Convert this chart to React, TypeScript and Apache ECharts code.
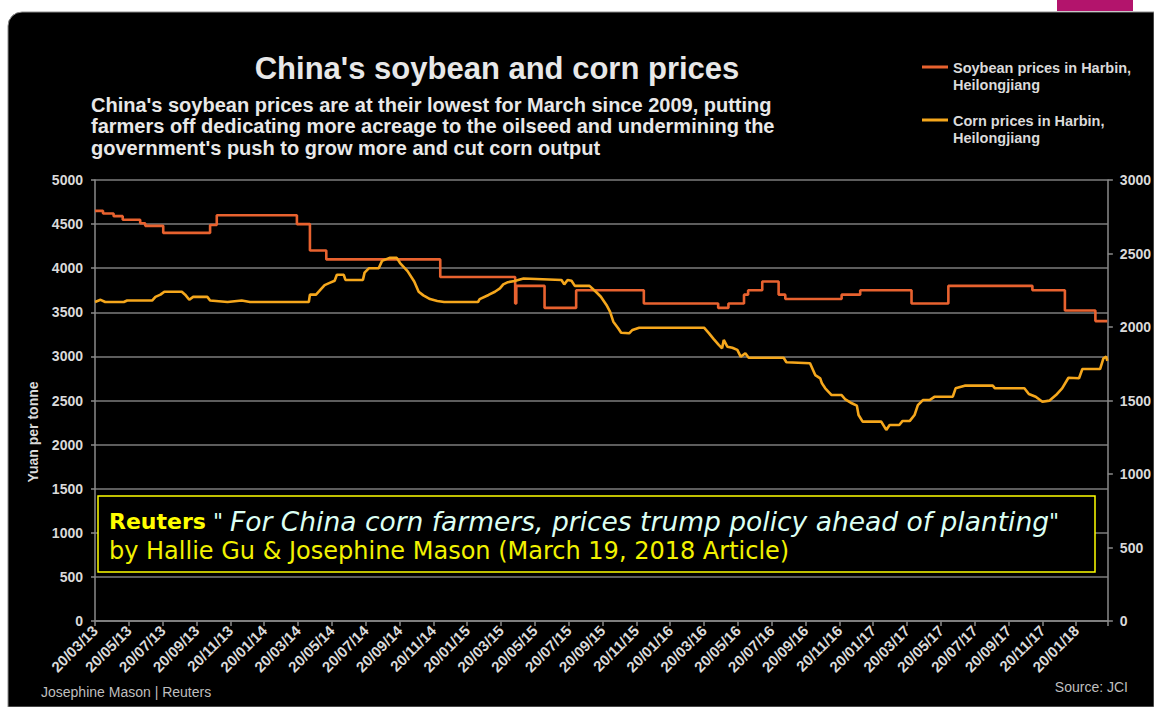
import React, { useEffect, useRef } from "react";
import * as echarts from "echarts";

// ---------- data ----------
const xTickLabels = [
  "20/03/13", "20/05/13", "20/07/13", "20/09/13", "20/11/13",
  "20/01/14", "20/03/14", "20/05/14", "20/07/14", "20/09/14", "20/11/14",
  "20/01/15", "20/03/15", "20/05/15", "20/07/15", "20/09/15", "20/11/15",
  "20/01/16", "20/03/16", "20/05/16", "20/07/16", "20/09/16", "20/11/16",
  "20/01/17", "20/03/17", "20/05/17", "20/07/17", "20/09/17", "20/11/17",
  "20/01/18",
];

const soyName = "Soybean prices in Harbin,\nHeilongjiang";
const cornName = "Corn prices in Harbin,\nHeilongjiang";

const soyDates = [
  "2013-03-20", "2013-04-04", "2013-04-23", "2013-05-09", "2013-06-10", "2013-06-19",
  "2013-07-21", "2013-10-14", "2013-10-26", "2014-03-18", "2014-04-11", "2014-05-10",
  "2014-12-02", "2015-04-15", "2015-04-17", "2015-06-07", "2015-08-03", "2015-12-03",
  "2016-04-15", "2016-05-03", "2016-05-31", "2016-06-08", "2016-07-03", "2016-08-02",
  "2016-08-14", "2016-11-24", "2016-12-27", "2017-03-28", "2017-06-03", "2017-11-02",
  "2017-12-30", "2018-02-24", "2018-03-15",
];
const soyValues = [
  4650, 4620, 4590, 4550, 4510, 4480,
  4400, 4490, 4600, 4500, 4200, 4100,
  3900, 3600, 3800, 3550, 3750, 3600,
  3550, 3600, 3700, 3750, 3850, 3700,
  3650, 3700, 3750, 3600, 3800, 3750,
  3520, 3400, 3400,
];

const cornDates = [
  "2013-03-20", "2013-03-30", "2013-04-08", "2013-05-11", "2013-05-17", "2013-07-01",
  "2013-07-07", "2013-07-16", "2013-07-23", "2013-08-24", "2013-08-30", "2013-09-07",
  "2013-09-14", "2013-10-09", "2013-10-14", "2013-11-15", "2013-12-10", "2013-12-25",
  "2014-04-09", "2014-04-11", "2014-04-22", "2014-04-28", "2014-05-07", "2014-05-16",
  "2014-05-25", "2014-05-29", "2014-06-11", "2014-06-14", "2014-07-15", "2014-07-18",
  "2014-07-26", "2014-08-13", "2014-08-19", "2014-09-02", "2014-09-15", "2014-09-21",
  "2014-10-04", "2014-10-16", "2014-10-24", "2014-11-02", "2014-11-14", "2014-11-27",
  "2014-12-09",
  "2015-02-09", "2015-02-12", "2015-02-28", "2015-03-09", "2015-03-18", "2015-03-24",
  "2015-04-02", "2015-04-14", "2015-04-30", "2015-07-07", "2015-07-12", "2015-07-18",
  "2015-07-25", "2015-07-31", "2015-08-27", "2015-09-08", "2015-09-17", "2015-09-27",
  "2015-10-03", "2015-10-09", "2015-10-18", "2015-10-23", "2015-11-07", "2015-11-13",
  "2015-11-25",
  "2016-03-20", "2016-03-29", "2016-04-07", "2016-04-16", "2016-04-22", "2016-04-25",
  "2016-05-01", "2016-05-10", "2016-05-19", "2016-05-25", "2016-06-03", "2016-06-09",
  "2016-08-11", "2016-08-16", "2016-09-28", "2016-10-07", "2016-10-16", "2016-10-19",
  "2016-10-25", "2016-11-06", "2016-11-24", "2016-11-30", "2016-12-12", "2016-12-21",
  "2016-12-24",
  "2017-01-01", "2017-02-04", "2017-02-13", "2017-02-19", "2017-03-06", "2017-03-12",
  "2017-03-25", "2017-04-03", "2017-04-09", "2017-04-18", "2017-04-30", "2017-05-09",
  "2017-06-11", "2017-06-16", "2017-07-02", "2017-08-22", "2017-08-26", "2017-10-18",
  "2017-10-26", "2017-11-08", "2017-11-20", "2017-12-02", "2017-12-14", "2017-12-25",
  "2018-01-06", "2018-01-25", "2018-01-31", "2018-03-02", "2018-03-08", "2018-03-13",
  "2018-03-15",
];
const cornValues = [
  2170, 2185, 2170, 2170, 2180, 2180,
  2205, 2220, 2240, 2240, 2220, 2185,
  2205, 2205, 2180, 2170, 2180, 2170,
  2170, 2220, 2220, 2245, 2285, 2300,
  2315, 2355, 2355, 2320, 2320, 2370,
  2400, 2400, 2450, 2470, 2470, 2435,
  2380, 2310, 2240, 2215, 2190, 2177,
  2170,
  2170, 2190, 2218, 2240, 2263, 2290,
  2305, 2313, 2330, 2320, 2290, 2320,
  2315, 2280, 2280, 2240, 2206, 2150,
  2104, 2036, 1990, 1961, 1957, 1980,
  1995,
  1995, 1957, 1918, 1878, 1855, 1912,
  1866, 1859, 1844, 1798, 1821, 1791,
  1791, 1760, 1753, 1673, 1651, 1617,
  1583, 1537, 1537, 1510, 1481, 1465,
  1401,
  1356, 1356, 1300, 1333, 1333, 1361,
  1361, 1401, 1469, 1503, 1503, 1526,
  1526, 1583, 1601, 1601, 1583, 1583,
  1544, 1526, 1492, 1499, 1537, 1583,
  1655, 1651, 1714, 1714, 1787, 1798,
  1770,
];

const axisStart = "2013-03-20";
const axisEnd = "2018-03-16";

// months elapsed since 20 March 2013 (ticks every two months fall on the 20th)
function toMonths(d: string): number {
  const [y, m, day] = d.split("-").map(Number);
  return (y - 2013) * 12 + (m - 3) + (day - 20) / 30.4;
}

const SOY = "#e8622f";
const CORN = "#f5a71c";
const AXIS_COLOR = "#8a8a8a";
const TEXT = "#dadada";
const FONT = "'Liberation Sans', Arial, Helvetica, sans-serif";
const BOX_FONT = "'DejaVu Sans', Verdana, sans-serif";

export default function App() {
  const ref = useRef<HTMLDivElement>(null);

  useEffect(() => {
    if (!ref.current) return;
    const chart = echarts.init(ref.current, null, { renderer: "svg" });

    const soyData = soyDates.map((d, i) => [toMonths(d), soyValues[i]]);
    const cornData = cornDates.map((d, i) => [toMonths(d), cornValues[i]]);

    const yLabel = {
      margin: 12,
      color: TEXT,
      fontFamily: FONT,
      fontWeight: "bold",
      fontSize: 14,
      formatter: (v: number) => String(v),
    };

    const option: any = {
      animation: false,
      backgroundColor: "#ffffff",
      grid: { left: 95, right: 42, top: 180, bottom: 86, containLabel: false },
      xAxis: {
        type: "value",
        min: toMonths(axisStart),
        max: toMonths(axisEnd),
        interval: 2,
        axisLine: { show: true, onZero: false, lineStyle: { color: AXIS_COLOR, width: 1.5 } },
        axisTick: { show: true, length: 5, lineStyle: { color: AXIS_COLOR, width: 1.5 } },
        splitLine: { show: false },
        axisLabel: {
          rotate: 45,
          margin: 7,
          color: TEXT,
          fontFamily: FONT,
          fontWeight: "bold",
          fontSize: 15,
          hideOverlap: false,
          formatter: (v: number) => {
            const i = Math.round(v / 2);
            if (Math.abs(v - i * 2) > 1e-6) return "";
            return xTickLabels[i] ?? "";
          },
        },
      },
      yAxis: [
        {
          type: "value",
          min: 0,
          max: 5000,
          interval: 500,
          position: "left",
          axisLine: { show: true, lineStyle: { color: AXIS_COLOR, width: 1.5 } },
          axisTick: { show: true, length: 4, lineStyle: { color: AXIS_COLOR, width: 1.5 } },
          splitLine: { show: true, lineStyle: { color: "#7c7c7c", width: 1.5 } },
          axisLabel: yLabel,
        },
        {
          type: "value",
          min: 0,
          max: 3000,
          interval: 500,
          position: "right",
          axisLine: { show: true, lineStyle: { color: AXIS_COLOR, width: 1.5 } },
          axisTick: { show: true, length: 5, lineStyle: { color: AXIS_COLOR, width: 1.5 } },
          splitLine: { show: false },
          axisLabel: yLabel,
        },
      ],
      series: [
        {
          name: soyName,
          type: "line",
          yAxisIndex: 0,
          step: "end",
          data: soyData,
          symbol: "none",
          lineStyle: { color: SOY, width: 2.6 },
          itemStyle: { color: SOY },
          z: 3,
        },
        {
          name: cornName,
          type: "line",
          yAxisIndex: 1,
          data: cornData,
          symbol: "none",
          lineStyle: { color: CORN, width: 2.6 },
          itemStyle: { color: CORN },
          z: 4,
        },
      ],
      graphic: [
        {
          type: "rect",
          z: -100,
          silent: true,
          shape: { x: 8, y: 12, width: 1146, height: 695, r: [14, 0, 0, 0] },
          style: { fill: "#000000", stroke: "#8c8c8c", lineWidth: 1 },
        },
        {
          type: "rect",
          z: -99,
          silent: true,
          shape: { x: 1057, y: 0, width: 76, height: 11 },
          style: { fill: "#b3146c" },
        },
        {
          type: "text",
          z: 10,
          x: 497,
          y: 68,
          style: {
            text: "China's soybean and corn prices",
            fill: "#e8e8e8",
            font: `bold 31px ${FONT}`,
            align: "center",
            verticalAlign: "middle",
          },
        },
        {
          type: "text",
          z: 10,
          x: 91,
          y: 94,
          style: {
            text:
              "China's soybean prices are at their lowest for March since 2009, putting\n" +
              "farmers off dedicating more acreage to the oilseed and undermining the\n" +
              "government's push to grow more and cut corn output",
            fill: "#e8e8e8",
            font: `bold 20px ${FONT}`,
            lineHeight: 21.5,
            align: "left",
            verticalAlign: "top",
          },
        },
        // legend
        {
          type: "line",
          z: 10,
          shape: { x1: 922, y1: 67, x2: 948, y2: 67 },
          style: { stroke: SOY, lineWidth: 3 },
        },
        {
          type: "text",
          z: 10,
          x: 953,
          y: 59,
          style: {
            text: soyName,
            fill: TEXT,
            font: `bold 14.5px ${FONT}`,
            lineHeight: 17,
            verticalAlign: "top",
          },
        },
        {
          type: "line",
          z: 10,
          shape: { x1: 922, y1: 120, x2: 948, y2: 120 },
          style: { stroke: CORN, lineWidth: 3 },
        },
        {
          type: "text",
          z: 10,
          x: 953,
          y: 112,
          style: {
            text: cornName,
            fill: TEXT,
            font: `bold 14.5px ${FONT}`,
            lineHeight: 17,
            verticalAlign: "top",
          },
        },
        // axis name
        {
          type: "text",
          z: 10,
          x: 33,
          y: 432,
          rotation: Math.PI / 2,
          style: {
            text: "Yuan per tonne",
            fill: TEXT,
            font: `bold 14px ${FONT}`,
            align: "center",
            verticalAlign: "middle",
          },
        },
        // annotation box
        {
          type: "rect",
          z: 20,
          shape: { x: 98, y: 496, width: 997, height: 76 },
          style: { fill: "#000000", stroke: "#ffff00", lineWidth: 1.5 },
        },
        {
          type: "text",
          z: 21,
          x: 109,
          y: 521,
          style: {
            text: '{r|Reuters}{q| " }{i|For China corn farmers, prices trump policy ahead of planting}{q|"}',
            verticalAlign: "middle",
            rich: {
              r: { fill: "#ffff00", font: `bold 22px ${BOX_FONT}` },
              q: { fill: "#dcfff3", font: `22px ${BOX_FONT}` },
              i: { fill: "#dcfff3", font: `italic 26.5px ${BOX_FONT}` },
            },
          },
        },
        {
          type: "text",
          z: 21,
          x: 109,
          y: 551,
          style: {
            text: "by Hallie Gu & Josephine Mason (March 19, 2018 Article)",
            fill: "#f2f200",
            font: `24px ${BOX_FONT}`,
            verticalAlign: "middle",
          },
        },
        // credits
        {
          type: "text",
          z: 10,
          x: 41,
          y: 692,
          style: {
            text: "Josephine Mason | Reuters",
            fill: "#bfbfbf",
            font: `14px ${FONT}`,
            verticalAlign: "middle",
          },
        },
        {
          type: "text",
          z: 10,
          x: 1128,
          y: 687,
          style: {
            text: "Source: JCI",
            fill: "#bfbfbf",
            font: `14px ${FONT}`,
            align: "right",
            verticalAlign: "middle",
          },
        },
      ],
    };

    chart.setOption(option);
    return () => chart.dispose();
  }, []);

  return (
    <div
      ref={ref}
      style={{ position: "absolute", left: 0, top: 0, width: 1154, height: 707 }}
    />
  );
}
